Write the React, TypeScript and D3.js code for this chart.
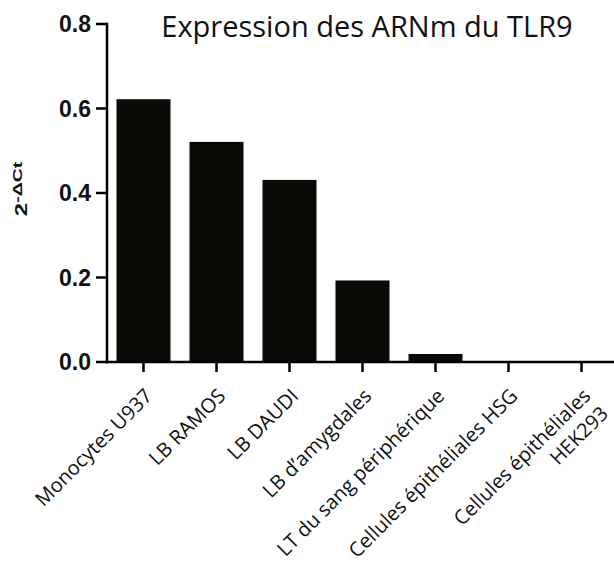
import React, { useEffect, useRef } from "react";
import * as d3 from "d3";

const categories = [
  "Monocytes U937",
  "LB RAMOS",
  "LB DAUDI",
  "LB d\u2019amygdales",
  "LT du sang p\u00e9riph\u00e9rique",
  "Cellules \u00e9pith\u00e9liales HSG",
  "Cellules \u00e9pith\u00e9liales\nHEK293",
];
const values = [0.622, 0.521, 0.431, 0.193, 0.019, 0, 0];
const yTicks = [0.0, 0.2, 0.4, 0.6, 0.8];
const title = "Expression des ARNm du TLR9";

const W = 614;
const H = 570;
const axisX = 107;
const baseY = 362;
const topY = 24;

export default function App() {
  const ref = useRef<SVGSVGElement>(null);

  useEffect(() => {
    const svg = d3.select(ref.current);
    svg.selectAll("*").remove();

    const x = d3
      .scaleBand<string>()
      .domain(categories)
      .range([axisX, 618])
      .paddingInner(0.26)
      .paddingOuter(0.13);
    const y = d3.scaleLinear().domain([0, 0.8]).range([baseY, topY]);

    // bars
    svg
      .append("g")
      .selectAll("rect")
      .data(values)
      .join("rect")
      .attr("x", (_, i) => x(categories[i])!)
      .attr("width", x.bandwidth())
      .attr("y", (d) => y(d))
      .attr("height", (d) => baseY - y(d))
      .attr("fill", "#0b0a07");

    // y axis
    const gy = svg.append("g");
    gy.append("line")
      .attr("x1", axisX)
      .attr("x2", axisX)
      .attr("y1", y(0.8) - 1.2)
      .attr("y2", baseY + 1.2)
      .attr("stroke", "#000")
      .attr("stroke-width", 2.5);
    yTicks.forEach((t) => {
      gy.append("line")
        .attr("x1", axisX - 11)
        .attr("x2", axisX)
        .attr("y1", y(t))
        .attr("y2", y(t))
        .attr("stroke", "#000")
        .attr("stroke-width", 2.5);
      gy.append("text")
        .attr("x", axisX - 16)
        .attr("y", y(t))
        .attr("dy", "0.36em")
        .attr("text-anchor", "end")
        .attr("font-family", "Liberation Sans, Arial, sans-serif")
        .attr("font-weight", "bold")
        .attr("font-size", 23)
        .attr("fill", "#111")
        .text(d3.format(".1f")(t));
    });

    // x axis
    const gx = svg.append("g");
    gx.append("line")
      .attr("x1", axisX - 1.2)
      .attr("x2", W)
      .attr("y1", baseY)
      .attr("y2", baseY)
      .attr("stroke", "#000")
      .attr("stroke-width", 2.5);
    categories.forEach((c) => {
      const cx = x(c)! + x.bandwidth() / 2;
      gx.append("line")
        .attr("x1", cx)
        .attr("x2", cx)
        .attr("y1", baseY)
        .attr("y2", baseY + 10)
        .attr("stroke", "#000")
        .attr("stroke-width", 2.5);
      const lines = c.split("\n");
      const t = gx
        .append("text")
        .attr("transform", `translate(${cx},${baseY + 25}) rotate(-45)`)
        .attr("text-anchor", "end")
        .attr("font-family", "Open Sans, sans-serif")
        .attr("font-size", 20)
        .attr("fill", "#111");
      lines.forEach((ln, i) => {
        t.append("tspan")
          .attr("x", 0)
          .attr("dy", i === 0 ? "0.72em" : "1.25em")
          .text(ln);
      });
    });

    // y label
    const yl = svg
      .append("text")
      .attr("transform", `translate(27,189) rotate(-90) scale(1.5,1)`)
      .attr("text-anchor", "middle")
      .attr("font-family", "Liberation Sans, Arial, sans-serif")
      .attr("font-weight", "bold")
      .attr("fill", "#111");
    yl.append("tspan").attr("font-size", 16).text("2");
    yl.append("tspan").attr("font-size", 13).attr("dy", -5).text("-\u0394Ct");

    // title
    svg
      .append("text")
      .attr("x", 367)
      .attr("y", 37)
      .attr("text-anchor", "middle")
      .attr("font-family", "Open Sans, sans-serif")
      .attr("font-size", 29)
      .attr("fill", "#111")
      .text(title);
  }, []);

  return (
    <svg
      ref={ref}
      width={W}
      height={H}
      style={{ position: "absolute", left: 0, top: 0, background: "#fff" }}
    />
  );
}
